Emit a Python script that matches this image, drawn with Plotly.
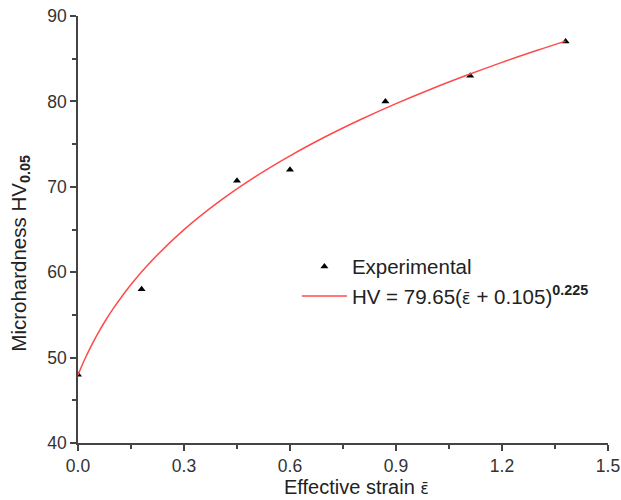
import plotly.graph_objects as go

# Experimental data
strain = [0.0, 0.18, 0.45, 0.60, 0.87, 1.11, 1.38]
hv = [48.0, 58.0, 70.7, 72.0, 80.0, 83.0, 87.0]

# Fitted curve, values
fit_x = [0.0, 0.01, 0.02, 0.04, 0.06, 0.08, 0.10, 0.15, 0.20, 0.30, 0.40, 0.50,
         0.60, 0.70, 0.80, 0.90, 1.00, 1.10, 1.20, 1.30, 1.38]
fit_y = [47.97, 48.96, 49.89, 51.58, 53.10, 54.49, 55.76, 58.57, 60.97, 64.99, 68.30, 71.14,
         73.63, 75.86, 77.88, 79.74, 81.46, 83.06, 84.57, 85.98, 87.06]

x_ticks = [0.0, 0.3, 0.6, 0.9, 1.2, 1.5]
y_ticks = [40, 50, 60, 70, 80, 90]

font = "Liberation Sans, Arial, sans-serif"
eps = '<span style="font-family:DejaVu Sans;font-size:0.8em">ε\u0304</span>'

fig = go.Figure()
fig.add_trace(go.Scatter(
    x=strain, y=hv, mode="markers", name="Experimental",
    marker=dict(symbol="triangle-up", size=7, color="black"),
))
fig.add_trace(go.Scatter(
    x=fit_x, y=fit_y, mode="lines", line_shape="spline",
    name=f"HV = 79.65({eps} + 0.105)<sup><b>0.225</b></sup>",
    line=dict(color="#ff4a4a", width=1.5),
))

axis_common = dict(
    showline=True, linecolor="#444", linewidth=1.5,
    ticks="outside", ticklen=6, tickwidth=1.5, tickcolor="#444",
    showgrid=False, zeroline=False, mirror=False, automargin=False,
    tickfont=dict(family=font, size=17.5, color="#333"),
    minor=dict(ticks="outside", ticklen=4, tickwidth=1.5, tickcolor="#444"),
)

fig.update_layout(
    width=621, height=500,
    margin=dict(l=78, r=13, t=16, b=57),
    paper_bgcolor="white", plot_bgcolor="white",
    font=dict(family=font, size=20, color="#222"),
    showlegend=True,
    legend=dict(x=0.413, y=0.46, xanchor="left", yanchor="top",
                itemwidth=45,
                bgcolor="rgba(0,0,0,0)", font=dict(size=20.5, color="#222"),
                tracegroupgap=0),
    xaxis=dict(range=[0, 1.5], tickvals=x_ticks,
               ticktext=[f"{v:.1f}" for v in x_ticks],
               minor_dtick=0.15, **axis_common),
    yaxis=dict(range=[40, 90], tickvals=y_ticks,
               minor_dtick=5, **axis_common),
    annotations=[
        dict(text=f"Effective strain {eps}", xref="paper", yref="paper",
             x=0.525, y=-0.1335, xanchor="center", yanchor="bottom",
             showarrow=False, font=dict(size=20, color="#222")),
        dict(text="Microhardness HV<sub><b>0.05</b></sub>", xref="paper", yref="paper",
             x=-0.11, y=0.445, xanchor="center", yanchor="middle", textangle=-90,
             showarrow=False, font=dict(size=20.5, color="#222")),
    ],
)

fig.write_html("out.html")
